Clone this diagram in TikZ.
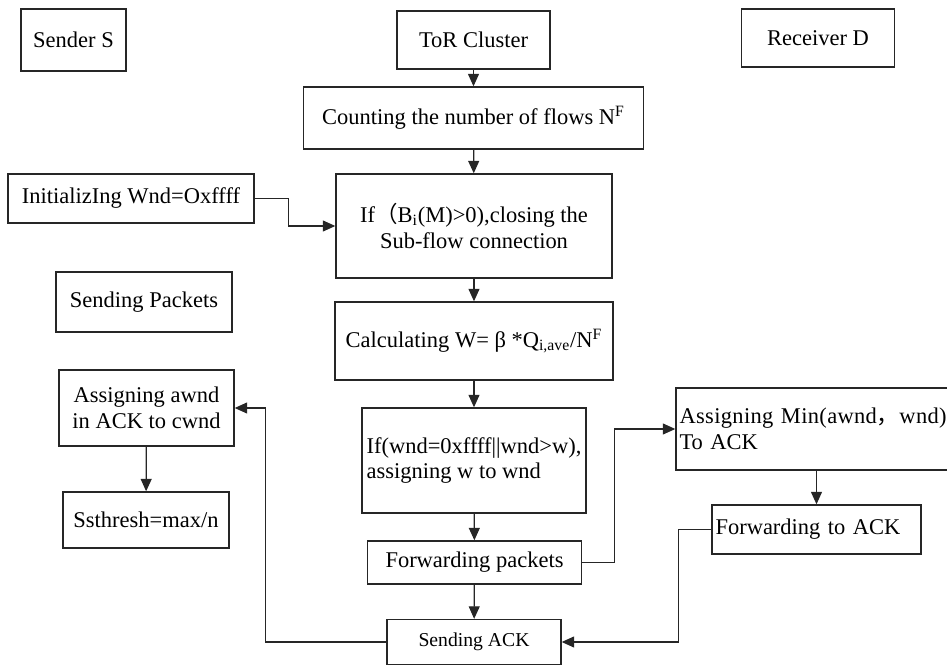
\documentclass[tikz,border=0pt]{standalone}
\usepackage{fontspec}
\setmainfont{Liberation Serif}
\newfontfamily\cjk{Noto Sans CJK SC}
\usetikzlibrary{arrows.meta}

\begin{document}
\begin{tikzpicture}[x=0.02cm,y=-0.02cm,
	block/.style={draw=black!85,line width=0.8pt,inner sep=2pt,
		font=\fontsize{12.8}{14.5}\selectfont,align=center},
	link/.style={draw=black!85,line width=0.7pt,
		-{Triangle[length=2.5mm,width=2.2mm]}}]
	
	\useasboundingbox (0,0) rectangle (947,666);
	\clip (0,0) rectangle (947,666);
	
	% top row
	\node[block,minimum width=2.1cm,minimum height=1.24cm] (sender) at (73.5,40) {Sender S};
	\node[block,minimum width=3.06cm,minimum height=1.16cm] (tor) at (473.5,40) {ToR Cluster};
	\node[block,minimum width=3.06cm,minimum height=1.16cm] (recv) at (818,38) {Receiver D};
	
	% middle column
	\node[block,minimum width=6.8cm,minimum height=1.24cm] (count) at (473.5,118)
		{Counting the number of flows N\textsuperscript{F}};
	\node[block,minimum width=5.52cm,minimum height=2.08cm] (close) at (474,226)
		{If{\cjk （}B\textsubscript{i}(M)>0),closing the\\Sub-flow connection};
	\node[block,minimum width=5.56cm,minimum height=1.56cm] (calc) at (474,341)
		{Calculating W= β *Q\textsubscript{i,ave}/N\textsuperscript{F}};
	\node[block,align=left,minimum width=4.48cm,minimum height=2.1cm] (assign) at (474,460.5)
		{If(wnd=0xffff||wnd>w),\\assigning w to wnd};
	\node[block,minimum width=4.28cm,minimum height=0.86cm] (fwdpkt) at (474.5,562.5) {Forwarding packets};
	\node[block,font=\fontsize{11.2}{13}\selectfont,minimum width=3.48cm,minimum height=0.9cm] (sendack) at (474,642) {Sending ACK};
	
	% sender side
	\node[block,minimum width=4.92cm,minimum height=0.98cm] (init) at (131,198.5) {InitializIng Wnd=Oxffff};
	\node[block,minimum width=3.52cm,minimum height=1.2cm] (sendpkt) at (144,302) {Sending Packets};
	\node[block,minimum width=3.5cm,minimum height=1.52cm] (awnd) at (146.5,408) {Assigning awnd\\in ACK to cwnd};
	\node[block,minimum width=3.32cm,minimum height=1.12cm] (ssth) at (146,520) {Ssthresh=max/n};
	
	% receiver side
	\node[block,align=left,text width=5.54cm,minimum height=1.64cm] (minack) at (818,429)
		{\mbox{\addfontfeature{LetterSpace=1.5}Assigning Min(awnd{\cjk ，}wnd)}\\To ACK};
	\node[block,align=left,text width=4.04cm,minimum height=0.98cm] (fwdack) at (816.5,529.5) {Forwarding to ACK};
	
	\draw[link] (tor) -- (count);
	\draw[link] (count) -- (close);
	\draw[link] (close) -- (calc);
	\draw[link] (calc) -- (assign);
	\draw[link] (assign) -- (fwdpkt);
	\draw[link] (fwdpkt) -- (sendack);
	
	\draw[link] (init.east) -- ++(34,0) |- (close.west);
	\draw[link] (fwdpkt.east) -- ++(32,0) |- (minack.west);
	\draw[link] (minack.south -| fwdack.north) -- (fwdack.north);
	\draw[link] (fwdack.west) -- ++(-33,0) |- (sendack.east);
	\draw[link] (sendack.west) -- ++(-121,0) |- (awnd.east);
	\draw[link] (awnd) -- (ssth);
	
\end{tikzpicture}
\end{document}
